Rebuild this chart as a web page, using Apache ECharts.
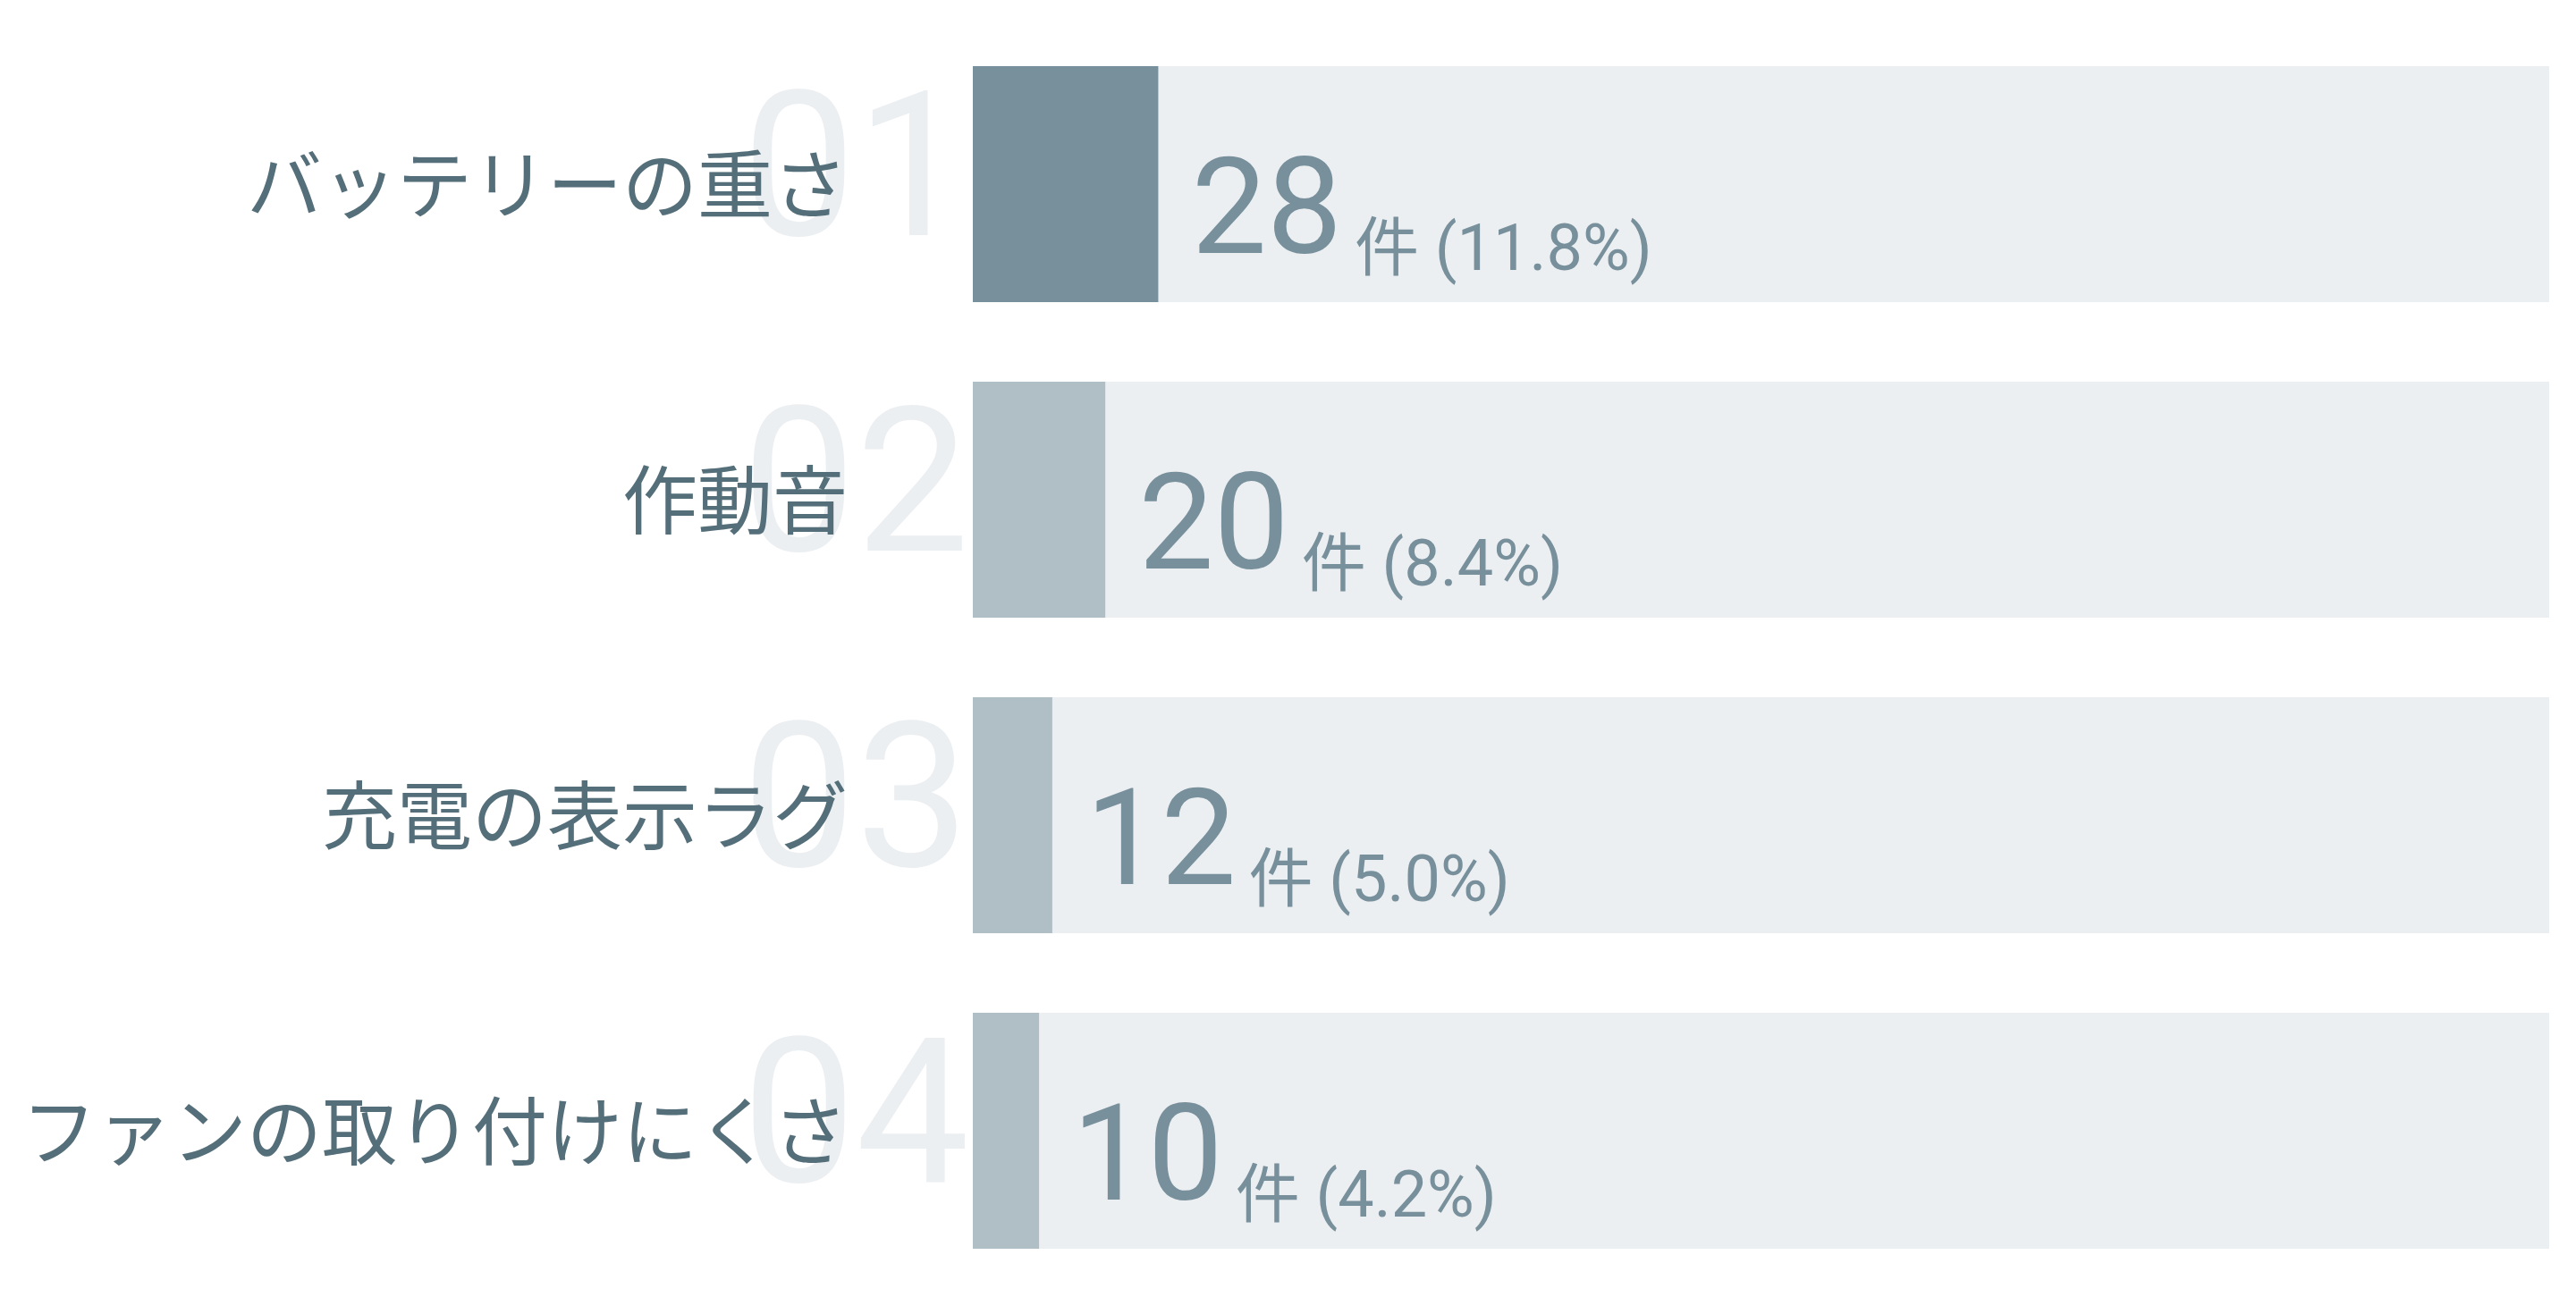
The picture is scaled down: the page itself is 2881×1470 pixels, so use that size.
<!DOCTYPE html>
<html>
<head>
<meta charset="utf-8">
<script src="https://cdn.jsdelivr.net/npm/echarts@6/dist/echarts.min.js"></script>
<style>
html,body{margin:0;padding:0;background:#ffffff;}
#chart{width:2881px;height:1470px;}
</style>
</head>
<body>
<div id="chart"></div>
<script>
const categories = ['バッテリーの重さ', '作動音', '充電の表示ラグ', 'ファンの取り付けにくさ'];
const counts = [28, 20, 12, 10];
const percents = ['11.8%', '8.4%', '5.0%', '4.2%'];
const ranks = ['01', '02', '03', '04'];
const total = 238;
const barColors = ['#78909c', '#b0bec5', '#b0bec5', '#b0bec5'];

const chart = echarts.init(document.getElementById('chart'));
const digitFont = 'Roboto, "Noto Sans", sans-serif';
const cjkFont = '"Noto Sans CJK JP", "Noto Sans", sans-serif';

chart.setOption({
  backgroundColor: '#ffffff',
  animation: false,
  grid: { left: 1088, right: 30, top: 29.5, bottom: 28.5 },
  xAxis: { type: 'value', min: 0, max: total, show: false },
  yAxis: [
    {
      type: 'category', data: categories, inverse: true, z: 5,
      axisLine: { show: false }, axisTick: { show: false }, splitLine: { show: false },
      axisLabel: {
        margin: 140, fontSize: 84, color: '#546e7a', fontFamily: cjkFont,
        padding: [0, 0, 14, 0]
      }
    },
    {
      type: 'category', data: ranks, inverse: true, position: 'left', z: 1,
      axisLine: { show: false }, axisTick: { show: false }, splitLine: { show: false },
      axisLabel: {
        margin: 258, align: 'left', fontSize: 226, color: '#eceff1', fontFamily: digitFont,
        padding: [0, 0, 42, 0]
      }
    }
  ],
  series: [{
    type: 'bar',
    yAxisIndex: 0,
    barWidth: 264,
    z: 3,
    showBackground: true,
    backgroundStyle: { color: '#eceff1' },
    data: counts.map((v, i) => ({ value: v, itemStyle: { color: barColors[i] } })),
    label: {
      show: true,
      position: 'right',
      distance: 37,
      offset: [0, 39],
      formatter: (p) => '{a|' + counts[p.dataIndex] + '}{b|件 (' + percents[p.dataIndex] + ')}',
      rich: {
        a: { fontSize: 150, lineHeight: 150, color: '#78909c', fontFamily: digitFont, verticalAlign: 'bottom' },
        b: { fontSize: 72, lineHeight: 68, color: '#78909c', fontFamily: digitFont + ', ' + cjkFont, verticalAlign: 'bottom', padding: [0, 0, 0, 14] }
      }
    }
  }]
});
</script>
</body>
</html>
